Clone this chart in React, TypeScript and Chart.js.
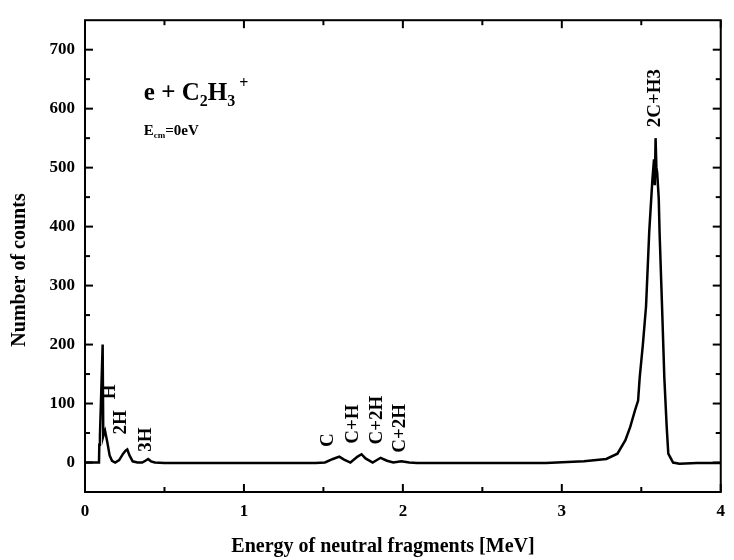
import React, { useEffect, useRef } from "react";
import { Chart, registerables } from "chart.js";

Chart.register(...registerables);

// Spectrum: energy of neutral fragments [MeV] vs number of counts
const energy = [
  0, 0.05, 0.088, 0.09, 0.094, 0.111, 0.115, 0.12, 0.126, 0.14, 0.155, 0.17, 0.19,
  0.215, 0.24, 0.255, 0.266, 0.28, 0.3, 0.33, 0.36, 0.38, 0.397, 0.415, 0.44, 0.5,
  0.7, 0.9, 1.1, 1.3, 1.45, 1.51, 1.56, 1.6, 1.63, 1.67, 1.715, 1.74, 1.765, 1.81,
  1.86, 1.9, 1.94, 1.99, 2.04, 2.09, 2.3, 2.6, 2.9, 3.14, 3.28, 3.35, 3.4, 3.43,
  3.46, 3.48, 3.49, 3.51, 3.53, 3.55, 3.57, 3.58, 3.585, 3.59, 3.595, 3.6, 3.61,
  3.615, 3.63, 3.645, 3.66, 3.67, 3.7, 3.74, 3.85, 4.0,
];
const counts = [
  0, 0, 0, 30, 45, 200, 45, 50, 54, 35, 12, 3, 0,
  4, 15, 20, 22, 12, 2, 0, 0, 3, 6, 2, 0, -1,
  -1, -1, -1, -1, -1, 0, 6, 10, 5, 0, 10, 14, 7, 0,
  8, 3, 0, 2, 0, -1, -1, -1, -1, 2, 6, 15, 38, 60,
  88, 105, 144, 200, 265, 391, 480, 514, 470, 550, 500, 492, 447,
  391, 270, 144, 60, 15, 0, -2, -1, -1,
];

const xTickValues = [0, 1, 2, 3, 4];
const yTickValues = [0, 100, 200, 300, 400, 500, 600, 700];
const xMinorValues = [0.5, 1.5, 2.5, 3.5];
const yMinorValues = [-50, 50, 150, 250, 350, 450, 550, 650];

const peakLabels = ["H", "2H", "3H", "C", "C+H", "C+2H", "C+2H", "2C+H3"];
const peakLabelX = [0.155, 0.23, 0.385, 1.53, 1.685, 1.835, 1.98, 3.585];
const peakLabelY = [120, 68, 39, 38, 65, 72, 58, 618];

const xTitle = "Energy of neutral fragments [MeV]";
const yTitle = "Number of counts";

const SERIF = "'Liberation Serif', 'Times New Roman', serif";

const decorPlugin = {
  id: "decor",
  afterDraw(chart: any) {
    const { ctx, chartArea } = chart;
    const { left, right, top, bottom } = chartArea;
    const xs = chart.scales.x;
    const ys = chart.scales.y;
    ctx.save();
    ctx.strokeStyle = "#000";
    ctx.fillStyle = "#000";
    ctx.lineWidth = 2;
    ctx.strokeRect(left, top, right - left, bottom - top);

    const tick = (x1: number, y1: number, x2: number, y2: number) => {
      ctx.beginPath();
      ctx.moveTo(x1, y1);
      ctx.lineTo(x2, y2);
      ctx.stroke();
    };
    xTickValues.forEach((v) => {
      const p = xs.getPixelForValue(v);
      tick(p, bottom, p, bottom - 8);
      tick(p, top, p, top + 8);
    });
    xMinorValues.forEach((v) => {
      const p = xs.getPixelForValue(v);
      tick(p, bottom, p, bottom - 5);
      tick(p, top, p, top + 5);
    });
    yTickValues.forEach((v) => {
      const p = ys.getPixelForValue(v);
      tick(left, p, left + 8, p);
      tick(right, p, right - 8, p);
    });
    yMinorValues.forEach((v) => {
      const p = ys.getPixelForValue(v);
      tick(left, p, left + 5, p);
      tick(right, p, right - 5, p);
    });

    // axis titles
    ctx.textAlign = "center";
    ctx.textBaseline = "middle";
    ctx.font = `bold 20px ${SERIF}`;
    ctx.fillText(xTitle, 383, 547);
    ctx.save();
    ctx.translate(20, 270);
    ctx.rotate(-Math.PI / 2);
    ctx.fillText(yTitle, 0, 0);
    ctx.restore();

    // peak labels (rotated)
    ctx.font = `bold 19px ${SERIF}`;
    peakLabels.forEach((t, i) => {
      const px = xs.getPixelForValue(peakLabelX[i]);
      const py = ys.getPixelForValue(peakLabelY[i]);
      ctx.save();
      ctx.translate(px, py);
      ctx.rotate(-Math.PI / 2);
      ctx.fillText(t, 0, 0);
      ctx.restore();
    });

    // reaction label: e + C2H3+
    ctx.textAlign = "left";
    ctx.textBaseline = "alphabetic";
    let x = xs.getPixelForValue(0.37);
    const base = ys.getPixelForValue(615);
    const big = `bold 25px ${SERIF}`;
    const small = `bold 16px ${SERIF}`;
    const put = (t: string, font: string, dy: number) => {
      ctx.font = font;
      ctx.fillText(t, x, base + dy);
      x += ctx.measureText(t).width;
    };
    put("e + C", big, 0);
    put("2", small, 6);
    put("H", big, 0);
    put("3", small, 6);
    x += 4;
    put("+", small, -12);

    // E_cm = 0 eV
    x = xs.getPixelForValue(0.37);
    const base2 = ys.getPixelForValue(555);
    ctx.font = `bold 15px ${SERIF}`;
    ctx.fillText("E", x, base2);
    x += ctx.measureText("E").width;
    ctx.font = `bold 9px ${SERIF}`;
    ctx.fillText("cm", x, base2 + 3);
    x += ctx.measureText("cm").width;
    ctx.font = `bold 15px ${SERIF}`;
    ctx.fillText("=0eV", x, base2);

    ctx.restore();
  },
};

export default function App() {
  const ref = useRef<HTMLCanvasElement | null>(null);
  useEffect(() => {
    if (!ref.current) return;
    const points = energy.map((e, i) => ({ x: e, y: counts[i] }));
    const chart = new Chart(ref.current, {
      type: "scatter",
      data: {
        datasets: [
          {
            data: points,
            showLine: true,
            borderColor: "#000",
            borderWidth: 2.5,
            pointRadius: 0,
            tension: 0,
            fill: false,
          },
        ],
      },
      options: {
        responsive: false,
        animation: false,
        layout: { padding: { left: 0, right: 3, top: 18, bottom: 0 } },
        plugins: { legend: { display: false }, tooltip: { enabled: false } },
        scales: {
          x: {
            type: "linear",
            min: 0,
            max: 4,
            grid: { display: false, drawTicks: false },
            border: { display: false },
            afterBuildTicks: (s: any) => {
              s.ticks = xTickValues.map((v) => ({ value: v }));
            },
            afterFit: (s: any) => {
              s.height = 68;
            },
            ticks: {
              padding: 9,
              color: "#000",
              font: { family: SERIF, size: 17, weight: "bold" },
              maxRotation: 0,
            },
          },
          y: {
            type: "linear",
            min: -50,
            max: 750,
            grid: { display: false, drawTicks: false },
            border: { display: false },
            afterBuildTicks: (s: any) => {
              s.ticks = yTickValues.map((v) => ({ value: v }));
            },
            afterFit: (s: any) => {
              s.width = 85;
            },
            ticks: {
              padding: 10,
              color: "#000",
              font: { family: SERIF, size: 17, weight: "bold" },
            },
          },
        },
      },
      plugins: [decorPlugin],
    } as any);
    return () => chart.destroy();
  }, []);
  return (
    <div style={{ position: "fixed", left: 0, top: 0, width: 734, height: 560, background: "#fff" }}>
      <canvas ref={ref} width={734} height={560} />
    </div>
  );
}
